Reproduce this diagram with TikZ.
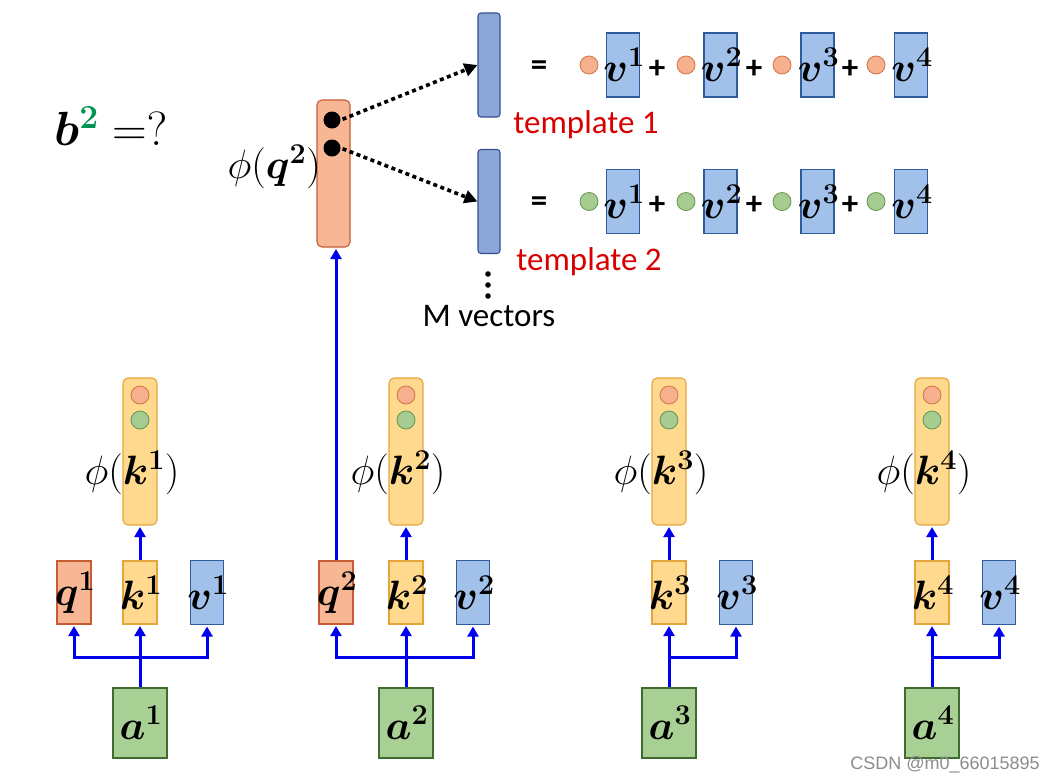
\RequirePackage{fix-cm}
\documentclass[tikz,border=0pt]{standalone}
\usepackage[no-math]{fontspec}
\setmainfont{Carlito}
\newfontfamily\markfont{Liberation Sans}
\usepackage{amsmath,bm}
\usetikzlibrary{arrows.meta,positioning}

\definecolor{qFill}{HTML}{F7B795}
\definecolor{qLine}{HTML}{C65B34}
\definecolor{kFill}{HTML}{FFD98E}
\definecolor{kLine}{HTML}{E5A53A}
\definecolor{vFill}{HTML}{A2C1EA}
\definecolor{vLine}{HTML}{2F5C9E}
\definecolor{tFill}{HTML}{8CA6DA}
\definecolor{tLine}{HTML}{34508F}
\definecolor{aFill}{HTML}{A8CF94}
\definecolor{aLine}{HTML}{3F6B30}
\definecolor{oFill}{HTML}{F6B08E}
\definecolor{oLine}{HTML}{D47A50}
\definecolor{gFill}{HTML}{A6CC92}
\definecolor{gLine}{HTML}{6A9A55}
\definecolor{flowBlue}{HTML}{0000EE}
\definecolor{tRed}{HTML}{D80000}
\definecolor{bGreen}{HTML}{00934F}

\newcommand{\boxfont}{\fontsize{41}{46}\selectfont}
\newcommand{\headfont}{\fontsize{48}{54}\selectfont}
\newcommand{\tplfont}{\fontsize{33}{38}\selectfont}
% letter that may stick out of its narrow box
\newcommand{\vecsym}[2]{\makebox[0pt]{\hspace{2pt}$\bm{#1}^{\bm{#2}}$}}

\begin{document}
\begin{tikzpicture}[x=1pt,y=-1pt,
  box/.style={draw,line width=1.1pt,inner sep=0pt,minimum width=34pt,minimum height=63pt,font=\boxfont},
  qbox/.style={box,fill=qFill,draw=qLine},
  kbox/.style={box,fill=kFill,draw=kLine},
  vbox/.style={box,fill=vFill,draw=vLine,minimum width=33pt,minimum height=64pt},
  abox/.style={box,fill=aFill,draw=aLine,minimum width=54pt,minimum height=70pt},
  bar/.style={draw,line width=1.1pt,rounded corners=5pt,inner sep=0pt,minimum width=34pt,minimum height=147pt},
  kbar/.style={bar,fill=kFill,draw=kLine},
  qbar/.style={bar,fill=qFill,draw=qLine,minimum width=33pt},
  tbar/.style={bar,fill=tFill,draw=tLine,minimum width=22pt,minimum height=104pt,rounded corners=3pt},
  tdot/.style={circle,line width=0.9pt,minimum size=18pt,inner sep=0pt},
  bdot/.style={circle,fill=black,minimum size=17pt,inner sep=0pt},
  flow/.style={draw=flowBlue,line width=3pt,-{Triangle[length=10pt,width=11pt]},shorten >=1.5pt},
  hint/.style={line width=3.6pt,dash pattern=on 4pt off 3.5pt,-{Triangle[length=13pt,width=13pt]},shorten <=2pt},
  tlabel/.style={font=\tplfont,text=tRed},
  sign/.style={font=\tplfont\bfseries}
]
  \useasboundingbox (0,0) rectangle (1048,782);

  % question and query feature
  \node[font=\headfont] (b2) at (111,126) {$\bm{b}^{\textcolor{bGreen}{\bm{2}}}\;{=}{?}$};
  \node[qbar] (phiq) at (333.5,173.5) {};
  \node[bdot] (d1) at (332,120) {};
  \node[bdot] (d2) at (332,148) {};
  \node[font=\boxfont,anchor=east,inner sep=0pt] (phiqlab) at (321,167) {$\phi(\bm{q}^{\bm{2}})$};

  % templates
  \node[tbar] (t1) at (489,65) {};
  \node[tbar] (t2) at (489,201.5) {};
  \draw[hint] (d1.east) -- (t1.west);
  \draw[hint] (d2.east) -- (t2.west);
  \node[tlabel] (tl1) at (586,125) {template 1};
  \node[tlabel] (tl2) at (589,262) {template 2};
  \foreach \y in {274,285,296}
    \fill (488,\y) circle (2.8pt);
  \node[font=\tplfont] (mvec) at (489,316) {M vectors};

  \foreach \r/\y/\fc/\dc in {1/65/oFill/oLine,2/201.5/gFill/gLine} {
    \node[sign] (eq\r) at (539,\y+3) {=};
    \foreach \j/\cx/\vx in {1/589/623,2/686/720.5,3/782/817.5,4/876/911} {
      \node[tdot,fill=\fc,draw=\dc] (c\r\j) at (\cx,\y) {};
      \node[vbox] (tv\r\j) at (\vx,\y) {\vecsym{v}{\j}};
    }
    \foreach \j/\px in {1/657,2/754,3/850}
      \node[sign] (pl\r\j) at (\px,\y+4) {+};
  }

  % input columns
  \foreach \col/\x in {1/140,2/406,3/669,4/932} {
    \node[kbar] (phik\col) at (\x,451.5) {};
    \node[tdot,fill=oFill,draw=oLine] (ok\col) at (\x,395) {};
    \node[tdot,fill=gFill,draw=gLine] (gk\col) at (\x,420) {};
    \node[font=\boxfont] (lk\col) at (\x-8,473) {$\phi(\bm{k}^{\bm{\col}})$};
    \node[kbox] (k\col) at (\x,592.5) {\vecsym{k}{\col}};
    \node[vbox] (v\col) at (\x+67,592.5) {\vecsym{v}{\col}};
    \node[abox] (a\col) at (\x,723) {\vecsym{a}{\col}};
    \path (k\col.south) ++(0,33) coordinate (j\col);
    \draw[flow] (k\col.north) -- (phik\col.south);
    \draw[flow] (a\col.north) -- (k\col.south);
    \draw[flow] (j\col) -| (v\col.south);
  }
  \node[qbox] (q1) at (74,592.5) {\vecsym{q}{1}};
  \node[qbox] (q2) at (336,592.5) {\vecsym{q}{2}};
  \draw[flow] (j1) -| (q1.south);
  \draw[flow] (j2) -| (q2.south);
  \draw[flow] (q2.north) -- (q2.north |- phiq.south);

  \node[font=\markfont\fontsize{18}{20}\selectfont,text=black!45] (mark) at (945,765) {CSDN @m0\_66015895};
\end{tikzpicture}
\end{document}
